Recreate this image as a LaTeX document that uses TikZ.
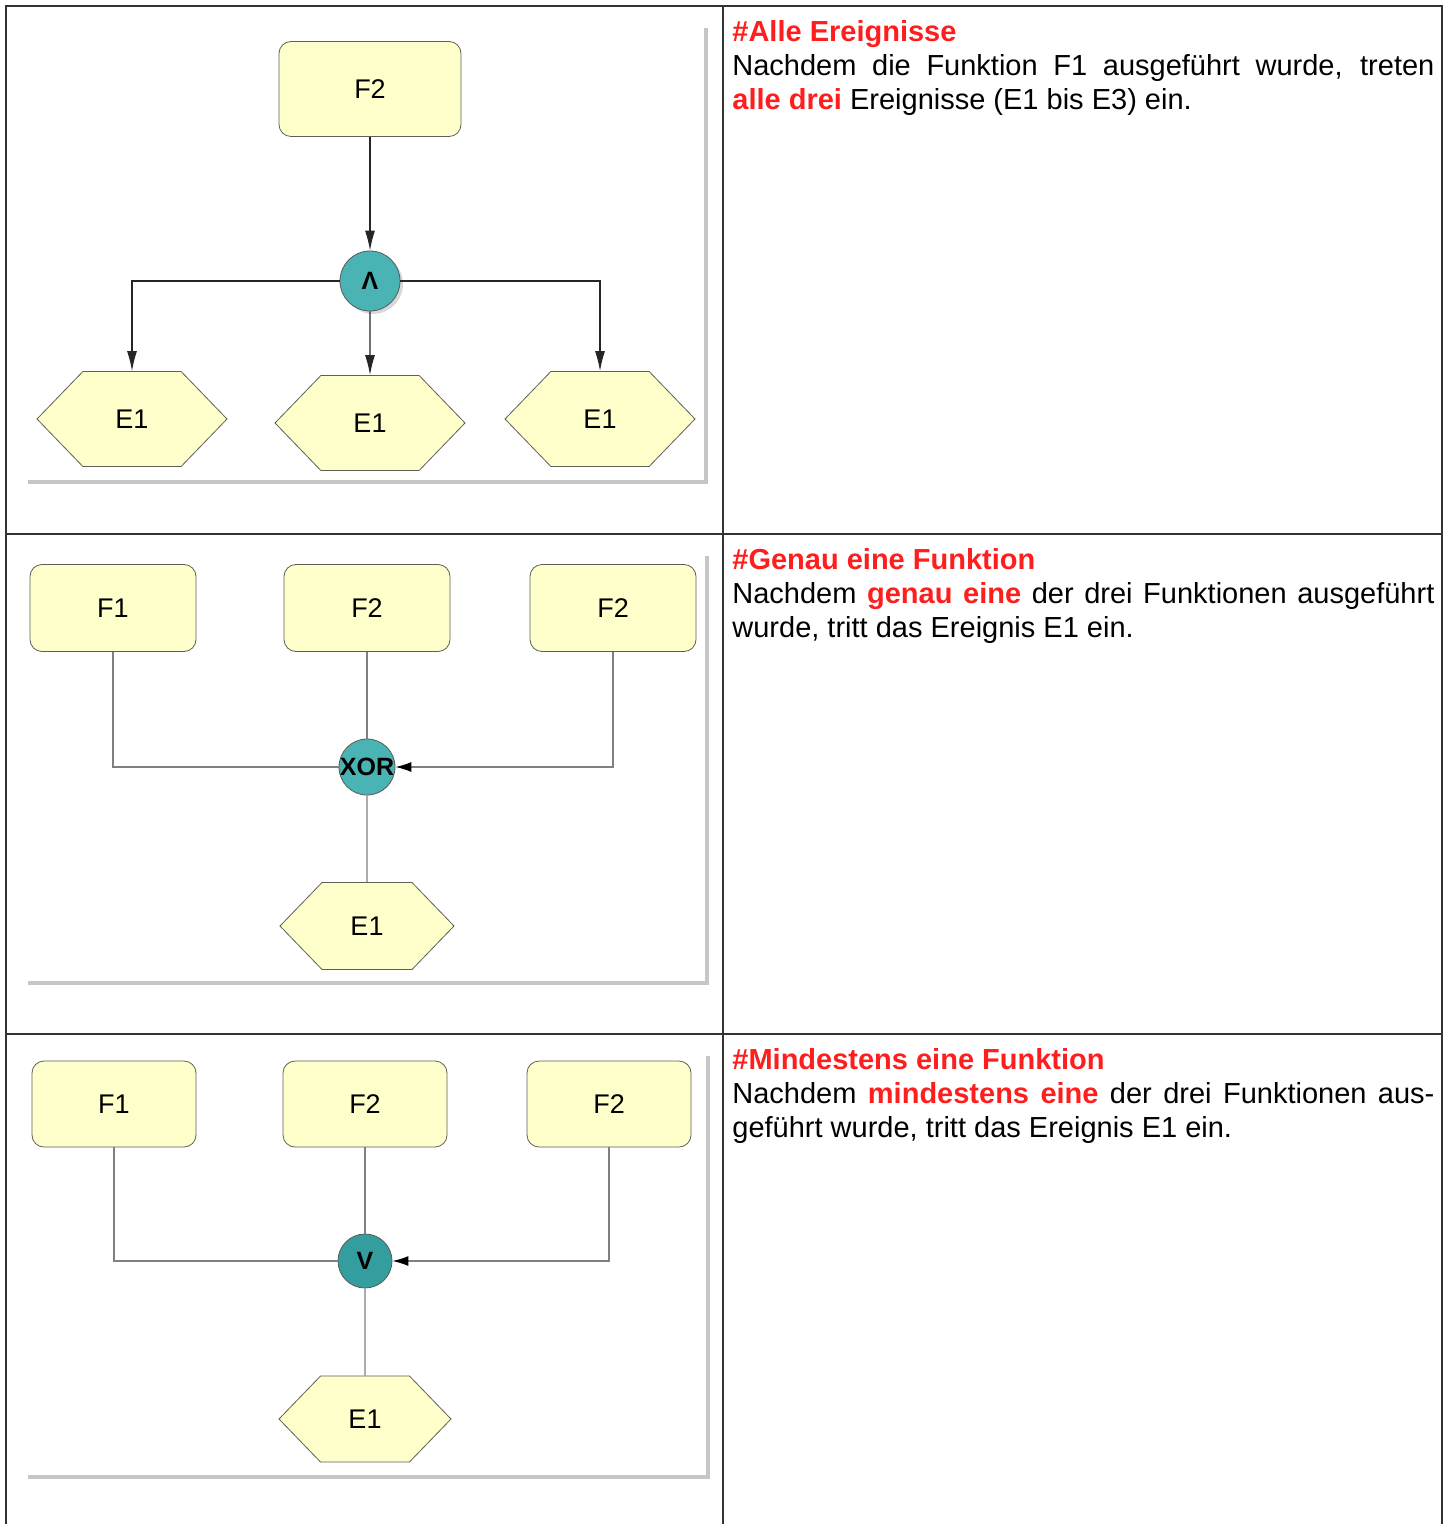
\documentclass[tikz,border=0pt]{standalone}
\usepackage{fontspec}
\setmainfont{Liberation Sans}
\usetikzlibrary{arrows.meta, positioning, shapes.symbols, shadows}
\definecolor{boxfill}{RGB}{255,255,204}
\definecolor{boxline}{RGB}{95,95,85}
\definecolor{opteal}{RGB}{74,180,180}
\definecolor{opdark}{RGB}{52,158,158}
\definecolor{hlred}{RGB}{255,30,30}
\def\notewidth{351pt}

\begin{document}
\begin{tikzpicture}[x=0.5pt,y=-0.5pt,>={Latex[length=10pt,width=5pt]}]
    \tikzstyle{grid line}=[draw=black!80, line width=0.8pt]
    \tikzstyle{panel}=[fill=white, drop shadow={shadow xshift=2pt,shadow yshift=-2pt,opacity=0.45}]
    \tikzstyle{func}=[rectangle, rounded corners=6pt, fill=boxfill, draw=boxline, inner sep=0pt, font=\fontsize{13.5}{15}\selectfont]
    \tikzstyle{event}=[signal, signal to=west and east, signal pointer angle=92, fill=boxfill, draw=boxline, inner sep=0pt, font=\fontsize{13.5}{15}\selectfont]
    \tikzstyle{op}=[circle, draw=black!65, inner sep=0pt, font=\fontsize{12.5}{14}\selectfont\bfseries]
    \tikzstyle{flow}=[->, draw=black!85, line width=0.6pt]
    \tikzstyle{link}=[draw=black!50, line width=0.6pt]
    \tikzstyle{merge link}=[link, -{Latex[length=8pt,width=5pt,black]}]
    \tikzstyle{note}=[anchor=north west, text width=\notewidth, align=justify, inner sep=0pt, font=\fontsize{14.5}{17}\selectfont]

    \useasboundingbox (0,0) rectangle (1449,1524);

    % table
    \draw[grid line] (6,1524) -- (6,6) -- (1442,6) -- (1442,1524);
    \draw[grid line] (723,6) -- (723,1524);
    \draw[grid line] (6,534) -- (1442,534);
    \draw[grid line] (6,1034) -- (1442,1034);

    % panels
    \path[panel] (24,24) rectangle (704,480);
    \path[panel] (24,552) rectangle (705,981);
    \path[panel] (24,1052) rectangle (706,1475);

    % alle Ereignisse
	\node[func, minimum width=91pt, minimum height=47.5pt] (F2) at (370,89) {F2};
	\node[op, fill=opteal, minimum size=30pt, drop shadow={shadow xshift=1.5pt,shadow yshift=-1.5pt,opacity=0.3}] (And) at (370,281) {Λ};
	\foreach \n/\x/\y in {1/132/419, 2/370/423, 3/600/419}{
		\node[event, minimum width=95pt, minimum height=47.5pt] (E-\n) at (\x,\y) {E1};
		}
	\draw[flow] (F2) -- (And);
	\draw[flow] (And) -| (E-1);
	\draw[flow] (And) -- (E-2);
	\draw[flow] (And) -| (E-3);

    % genau eine
	\foreach \n/\x/\t in {1/113/F1, 2/367/F2, 3/613/F2}{
		\node[func, minimum width=83pt, minimum height=43.5pt] (G-\n) at (\x,608) {\t};
		}
	\node[op, fill=opteal, minimum size=28pt] (Xor) at (367,767) {\makebox[0pt]{XOR}};
	\node[event, minimum width=87pt, minimum height=43.5pt] (H) at (367,926) {E1};
	\draw[link] (G-1) |- (Xor);
	\draw[link] (G-2) -- (Xor);
	\draw[merge link] (G-3) |- (Xor);
	\draw[link] (Xor) -- (H);

    % mindestens eine
	\foreach \n/\x/\t in {1/114/F1, 2/365/F2, 3/609/F2}{
		\node[func, minimum width=82pt, minimum height=43pt] (K-\n) at (\x,1104) {\t};
		}
	\node[op, fill=opdark, minimum size=27pt] (Or) at (365,1261) {V};
	\node[event, minimum width=86pt, minimum height=43pt] (M) at (365,1419) {E1};
	\draw[link] (K-1) |- (Or);
	\draw[link] (K-2) -- (Or);
	\draw[merge link] (K-3) |- (Or);
	\draw[link] (Or) -- (M);

    % texts
	\node[note] (T-1) at (732,20) {{\color{hlred}\bfseries \#Alle Ereignisse}\\
		Nachdem die Funktion F1 ausgeführt wurde, treten\linebreak
		{\color{hlred}\bfseries alle drei} Ereignisse (E1 bis E3) ein.};
	\node[note] (T-2) at (732,548) {{\color{hlred}\bfseries \#Genau eine Funktion}\\
		Nachdem {\color{hlred}\bfseries genau eine} der drei Funktionen ausgeführt\linebreak
		wurde, tritt das Ereignis E1 ein.};
	\node[note] (T-3) at (732,1048) {{\color{hlred}\bfseries \#Mindestens eine Funktion}\\
		Nachdem {\color{hlred}\bfseries mindestens eine} der drei Funktionen aus-\linebreak
		geführt wurde, tritt das Ereignis E1 ein.};
\end{tikzpicture}
\end{document}
